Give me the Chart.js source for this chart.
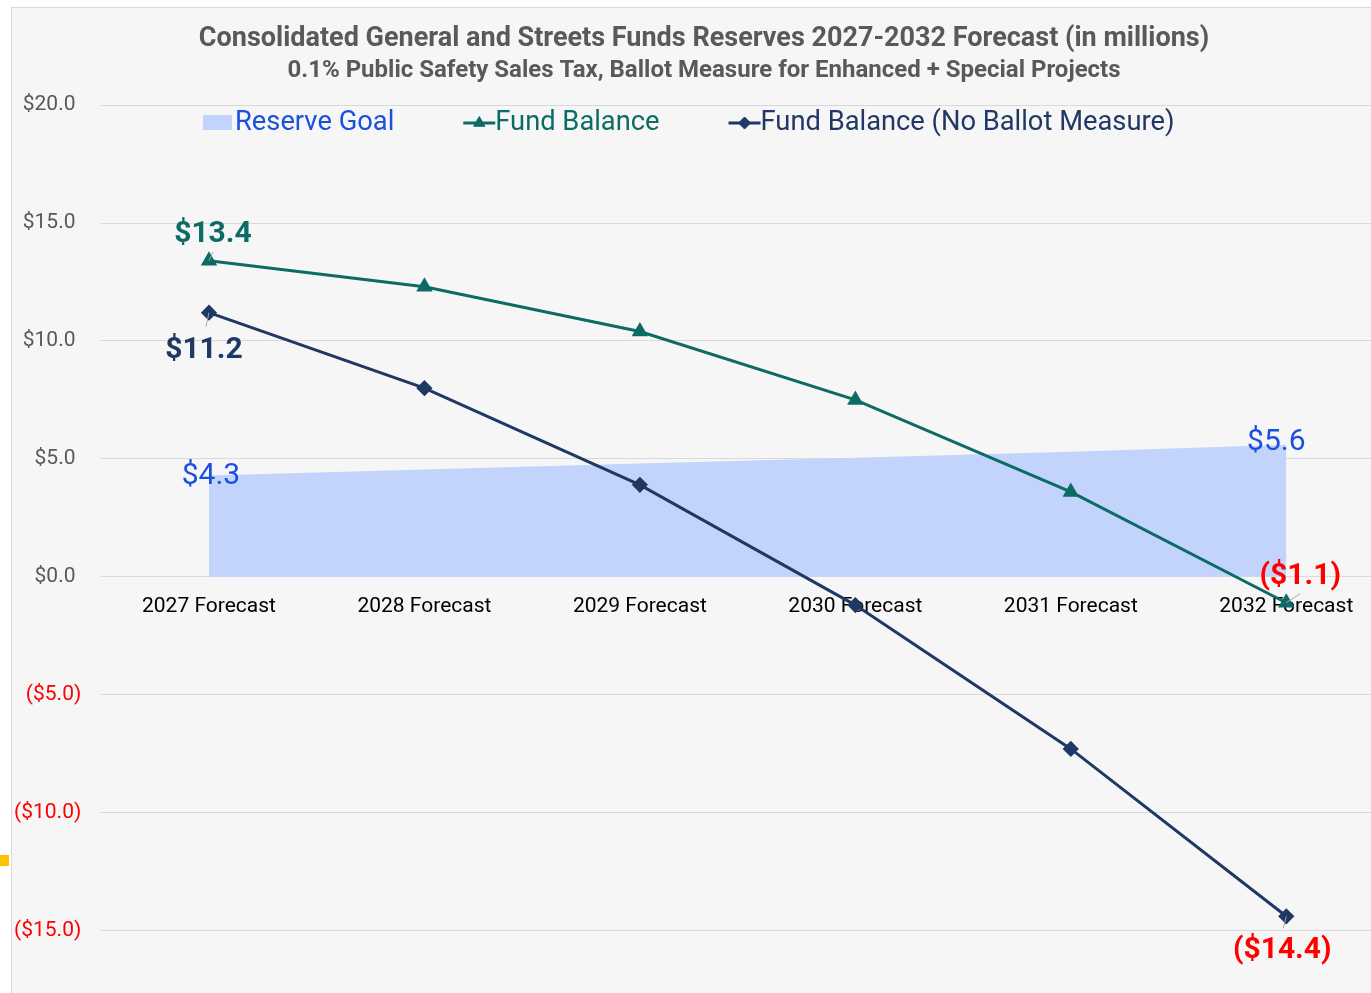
<!DOCTYPE html>
<html>
<head>
<meta charset="utf-8">
<script src="https://cdn.jsdelivr.net/npm/chart.js@4.4.1/dist/chart.umd.min.js"></script>
<style>
  html, body { margin: 0; padding: 0; background: #ffffff; overflow: hidden; }
  #frame {
    position: absolute; left: 11px; top: 7px;
    width: 1400px; height: 1020px;
    border: 1px solid #d9d9d9; background: #f6f6f6;
  }
  #marker { position: absolute; left: 0; top: 855px; width: 9px; height: 11px; background: #ffc000; }
</style>
</head>
<body>
<div id="frame"><canvas id="reserveChart" width="1392" height="1014"></canvas></div>
<div id="marker"></div>
<script>
const years = ['2027 Forecast', '2028 Forecast', '2029 Forecast', '2030 Forecast', '2031 Forecast', '2032 Forecast'];
const reserveGoal = [4.3, 4.55, 4.8, 5.05, 5.3, 5.6];
const fundBalance = [13.4, 12.3, 10.4, 7.5, 3.6, -1.1];
const fundBalanceNoBallot = [11.2, 8.0, 3.9, -1.2, -7.3, -14.4];
const yTicks = [-15, -10, -5, 0, 5, 10, 15, 20];

const BLUE_TEXT = '#1a50e0';
const AREA = '#c2d4fb';
const GREEN = '#0d6b66';
const NAVY = '#1f3864';
const RED = '#ff0000';

function money(v) {
  return v < 0 ? `($${Math.abs(v).toFixed(1)})` : `$${v.toFixed(1)}`;
}

// legend drawn inside the plot area, like the original
const insideLegend = {
  id: 'insideLegend',
  afterDatasetsDraw(chart, args, opts) {
    const ctx = chart.ctx;
    let x = opts.x;
    const y = opts.y;
    ctx.save();
    ctx.font = `${opts.size}px Roboto`;
    ctx.textBaseline = 'middle';
    ctx.textAlign = 'left';
    chart.data.datasets.forEach(ds => {
      if (ds.legendIcon === 'box') {
        ctx.fillStyle = ds.backgroundColor;
        ctx.fillRect(x, y - 8, 29, 15);
      } else {
        ctx.strokeStyle = ds.borderColor;
        ctx.lineWidth = 3;
        ctx.beginPath();
        ctx.moveTo(x, y);
        ctx.lineTo(x + 32, y);
        ctx.stroke();
        ctx.fillStyle = ds.borderColor;
        ctx.lineWidth = 1;
        Chart.helpers.drawPoint(ctx, { pointStyle: ds.pointStyle, rotation: 0, radius: ds.pointRadius, borderWidth: 1 }, x + 16, y);
      }
      x += 32;
      ctx.fillStyle = ds.legendColor;
      ctx.fillText(ds.label, x, y);
      x += ctx.measureText(ds.label).width + opts.gap;
    });
    ctx.restore();
  }
};

// value labels on first / last points
const valueLabels = {
  id: 'valueLabels',
  afterDatasetsDraw(chart, args, opts) {
    const ctx = chart.ctx;
    ctx.save();
    opts.items.forEach(it => {
      const pt = chart.getDatasetMeta(it.dataset).data[it.index];
      const v = chart.data.datasets[it.dataset].data[it.index];
      if (it.leader) {
        ctx.strokeStyle = '#a6a6a6';
        ctx.lineWidth = 1;
        ctx.beginPath();
        ctx.moveTo(pt.x + it.leader[0], pt.y + it.leader[1]);
        ctx.lineTo(pt.x, pt.y);
        ctx.stroke();
      }
      ctx.font = `${it.bold ? 'bold ' : ''}${it.size}px Roboto`;
      ctx.fillStyle = v < 0 ? RED : it.color;
      ctx.textAlign = 'center';
      ctx.textBaseline = 'middle';
      ctx.fillText(money(v), pt.x + it.dx, pt.y + it.dy);
    });
    ctx.restore();
  }
};

new Chart(document.getElementById('reserveChart'), {
  type: 'line',
  data: {
    labels: years,
    datasets: [
      {
        label: 'Reserve Goal',
        data: reserveGoal,
        backgroundColor: AREA,
        borderWidth: 0,
        pointRadius: 0,
        fill: 'origin',
        order: 3,
        legendIcon: 'box',
        legendColor: BLUE_TEXT
      },
      {
        label: 'Fund Balance',
        data: fundBalance,
        borderColor: GREEN,
        backgroundColor: GREEN,
        borderWidth: 3,
        pointStyle: 'triangle',
        pointRadius: 6.5,
        fill: false,
        order: 1,
        legendColor: GREEN
      },
      {
        label: 'Fund Balance (No Ballot Measure)',
        data: fundBalanceNoBallot,
        borderColor: NAVY,
        backgroundColor: NAVY,
        borderWidth: 3,
        pointStyle: 'rectRot',
        pointRadius: 6,
        fill: false,
        order: 0,
        legendColor: NAVY
      }
    ]
  },
  options: {
    responsive: false,
    animation: false,
    layout: { padding: { left: 2, right: 10, top: 0, bottom: 0 } },
    plugins: {
      legend: { display: false },
      tooltip: { enabled: false },
      title: {
        display: true,
        text: 'Consolidated General and Streets Funds Reserves 2027-2032 Forecast (in millions)',
        color: '#595959',
        font: { family: 'Roboto', size: 27, weight: 'bold', lineHeight: 1.2 },
        padding: { top: 15, bottom: 1 }
      },
      subtitle: {
        display: true,
        text: '0.1% Public Safety Sales Tax, Ballot Measure for Enhanced + Special Projects',
        color: '#595959',
        font: { family: 'Roboto', size: 24, weight: 'bold', lineHeight: 1.2 },
        padding: { top: 0, bottom: 20 }
      },
      insideLegend: { x: 191, y: 115, size: 27.3, gap: 69 },
      valueLabels: {
        items: [
          { dataset: 0, index: 0, dx: 2, dy: 1.5, size: 30, bold: false, color: BLUE_TEXT },
          { dataset: 0, index: 5, dx: -10, dy: -2.5, size: 30, bold: false, color: BLUE_TEXT },
          { dataset: 1, index: 0, dx: 4, dy: -26.5, size: 30, bold: true, color: GREEN, leader: [4, -9] },
          { dataset: 1, index: 5, dx: 14, dy: -26.5, size: 30, bold: true, color: GREEN, leader: [14, -9] },
          { dataset: 2, index: 0, dx: -5, dy: 37.5, size: 30, bold: true, color: NAVY, leader: [-3, 14] },
          { dataset: 2, index: 5, dx: -4, dy: 34.5, size: 30, bold: true, color: NAVY, leader: [-3, 12] }
        ]
      }
    },
    scales: {
      x: {
        position: { y: 0 },
        offset: true,
        grid: { display: false, drawTicks: false },
        border: { display: false },
        ticks: { color: '#000000', font: { family: 'Roboto', size: 21 }, padding: 17, maxRotation: 0 }
      },
      y: {
        min: -17.5,
        max: 20,
        afterBuildTicks: scale => { scale.ticks = yTicks.map(v => ({ value: v })); },
        // Chart.js counts tick padding twice in the axis width
        afterFit: scale => { scale.width -= 20; },
        grid: { color: '#d9d9d9', lineWidth: 1, drawTicks: false },
        border: { display: false },
        ticks: {
          padding: 20,
          color: ctx => (ctx.tick.value < 0 ? RED : '#595959'),
          font: { family: 'Roboto', size: 21 },
          callback: v => (v < 0 ? money(v) : money(v) + '\u2008')
        }
      }
    }
  },
  plugins: [insideLegend, valueLabels]
});
</script>
</body>
</html>
